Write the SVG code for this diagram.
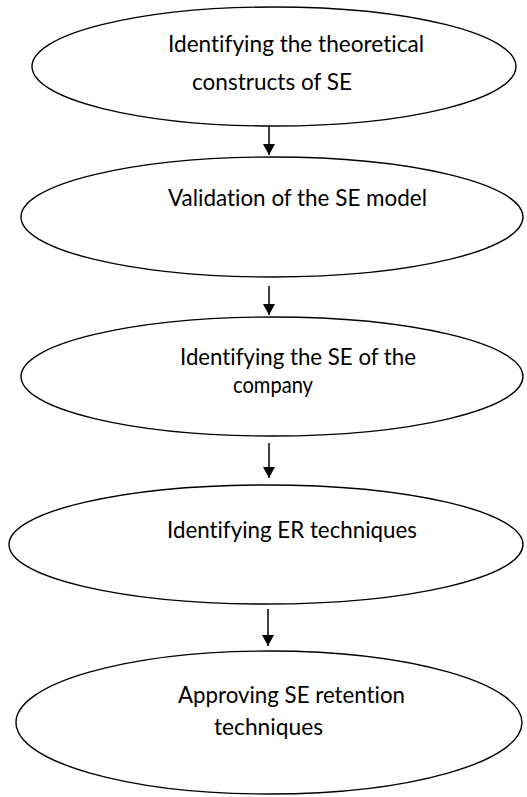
<svg xmlns="http://www.w3.org/2000/svg" width="527" height="797" viewBox="0 0 527 797">
  <style>
    .node ellipse { fill: #ffffff; stroke: #000000; stroke-width: 1.4; }
    .node text { font-family: Lato, "Open Sans", "Liberation Sans", sans-serif; font-size: 23px; font-variant-ligatures: none; fill: #000000; }
    .edge { stroke: #000000; stroke-width: 1.5; fill: none; marker-end: url(#arrow); }
  </style>
  <defs>
    <marker id="arrow" viewBox="0 0 11 12" refX="11" refY="6" markerWidth="11" markerHeight="12" markerUnits="userSpaceOnUse" orient="auto">
      <path d="M0,0 L11,6 L0,12 Z" fill="#000000"/>
    </marker>
  </defs>
  <rect width="527" height="797" fill="#ffffff"/>

  <g id="connectors">
    <line class="edge" x1="269" y1="126" x2="269" y2="155"/>
    <line class="edge" x1="269" y1="286" x2="269" y2="315"/>
    <line class="edge" x1="269" y1="443" x2="269" y2="478"/>
    <line class="edge" x1="268" y1="609" x2="268" y2="646"/>
  </g>

  <g id="node-constructs" class="node">
    <ellipse cx="274" cy="66.5" rx="242" ry="59.5"/>
    <text x="168" y="52" textLength="256" lengthAdjust="spacingAndGlyphs">Identifying the theoretical</text>
    <text x="192" y="90" textLength="160" lengthAdjust="spacingAndGlyphs">constructs of SE</text>
  </g>

  <g id="node-validation" class="node">
    <ellipse cx="272" cy="217" rx="251" ry="60"/>
    <text x="168" y="206" textLength="259" lengthAdjust="spacingAndGlyphs">Validation of the SE model</text>
  </g>

  <g id="node-company" class="node">
    <ellipse cx="272" cy="376.5" rx="251" ry="59.5"/>
    <text x="180" y="365" textLength="236" lengthAdjust="spacingAndGlyphs">Identifying the SE of the</text>
    <text x="233" y="393" textLength="80" lengthAdjust="spacingAndGlyphs">company</text>
  </g>

  <g id="node-er" class="node">
    <ellipse cx="266" cy="544.5" rx="257" ry="59.5"/>
    <text x="167" y="538" textLength="250" lengthAdjust="spacingAndGlyphs">Identifying ER techniques</text>
  </g>

  <g id="node-retention" class="node">
    <ellipse cx="269" cy="722.5" rx="253" ry="71.5"/>
    <text x="178" y="703" textLength="227" lengthAdjust="spacingAndGlyphs">Approving SE retention</text>
    <text x="214" y="735" textLength="109" lengthAdjust="spacingAndGlyphs">techniques</text>
  </g>
</svg>
